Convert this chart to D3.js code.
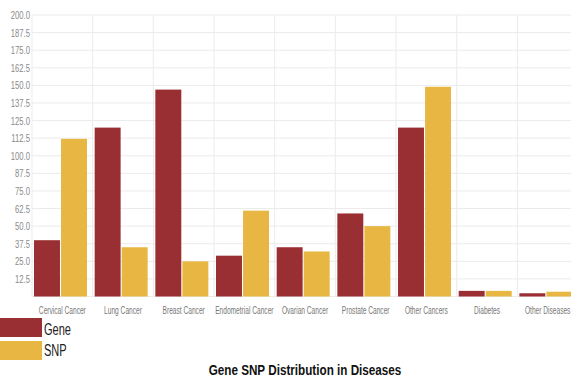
<!DOCTYPE html>
<html>
<head>
<meta charset="utf-8">
<script src="https://cdn.jsdelivr.net/npm/d3@7"></script>
<style>
  html, body { margin: 0; padding: 0; background: #fff; }
  svg { display: block; font-family: "Liberation Sans", Arial, sans-serif; }
</style>
</head>
<body>
<svg id="chart" width="571" height="380"></svg>
<script>
const categories = ["Cervical Cancer", "Lung Cancer", "Breast Cancer", "Endometrial Cancer",
  "Ovarian Cancer", "Prostate Cancer", "Other Cancers", "Diabetes", "Other Diseases"];
const seriesNames = ["Gene", "SNP"];
const geneValues = [40, 120, 147, 29, 35, 59, 120, 4, 2.3];
const snpValues = [112, 35, 25, 61, 32, 50, 149, 4, 3.4];
const yTicks = [12.5, 25, 37.5, 50, 62.5, 75, 87.5, 100, 112.5, 125, 137.5, 150, 162.5, 175, 187.5, 200];
const colors = ["#9a2f33", "#e8b743"];
const title = "Gene SNP Distribution in Diseases";

const svg = d3.select("#chart");
const left = 32, bandStep = 60.67;
const plotRight = left + bandStep * categories.length;
const y0 = 296.5, yTop = 15;

const x0 = d3.scaleBand().domain(categories).range([left, plotRight]).padding(0);
const x1 = d3.scaleBand().domain(seriesNames).range([2, 55]).paddingInner(0.04).paddingOuter(0);
const y = d3.scaleLinear().domain([0, 200]).range([y0, yTop]);
const color = d3.scaleOrdinal().domain(seriesNames).range(colors);

// grid
const grid = svg.append("g");
grid.selectAll("line.h").data([0].concat(yTicks)).join("line")
  .attr("x1", left).attr("x2", plotRight)
  .attr("y1", d => y(d)).attr("y2", d => y(d))
  .attr("stroke", "#ebebeb").attr("stroke-width", 1);
grid.selectAll("line.v").data(categories).join("line")
  .attr("x1", d => x0(d)).attr("x2", d => x0(d))
  .attr("y1", yTop).attr("y2", y0)
  .attr("stroke", "#ebebeb").attr("stroke-width", 1);

// y tick labels
const yAxis = svg.append("g").attr("transform", `translate(30,0)`)
  .call(d3.axisLeft(y).tickValues(yTicks).tickFormat(d3.format(".1f")).tickSize(0).tickPadding(0));
yAxis.select(".domain").remove();
yAxis.selectAll("text")
  .attr("fill", "#8a8a8a").attr("font-size", "11px")
  .attr("font-family", "Liberation Sans, Arial, sans-serif")
  .each(function() {
    const t = d3.select(this);
    const yy = +t.attr("y") || 0;
    t.attr("transform", "scale(0.7,1)").attr("x", 0);
  });
// custom placement of y labels (compressed, right-aligned at x=30)
yAxis.selectAll(".tick text").attr("text-anchor", "end");

// bars
const data = categories.map((c, i) => ({ cat: c, vals: [
  { key: "Gene", value: geneValues[i] }, { key: "SNP", value: snpValues[i] }] }));
const groups = svg.append("g").selectAll("g").data(data).join("g")
  .attr("transform", d => `translate(${x0(d.cat)},0)`);
groups.selectAll("rect").data(d => d.vals).join("rect")
  .attr("x", d => x1(d.key))
  .attr("width", x1.bandwidth())
  .attr("y", d => y(d.value))
  .attr("height", d => y0 - y(d.value))
  .attr("fill", d => color(d.key));

// x labels
const xAxis = svg.append("g").attr("transform", `translate(0,${y0})`)
  .call(d3.axisBottom(x0).tickSize(0).tickPadding(0));
xAxis.select(".domain").remove();
xAxis.selectAll(".tick text")
  .attr("fill", "#777").attr("font-size", "10px")
  .attr("font-family", "Liberation Sans, Arial, sans-serif")
  .attr("dy", 0).attr("y", 17.5)
  .attr("transform", "scale(0.66,1)");

// legend
const legend = svg.append("g");
seriesNames.forEach((s, i) => {
  legend.append("rect").attr("x", 0).attr("y", 318 + i * 23)
    .attr("width", 42).attr("height", 19).attr("fill", color(s));
  legend.append("text").attr("transform", `translate(44,${335 + i * 20.5}) scale(0.65,1)`)
    .attr("font-size", "17px").attr("fill", "#222").text(s);
});

// title
svg.append("text").attr("transform", `translate(305,375) scale(0.78,1)`)
  .attr("text-anchor", "middle").attr("font-size", "15px").attr("font-weight", "bold")
  .attr("fill", "#111").text(title);
</script>
</body>
</html>
